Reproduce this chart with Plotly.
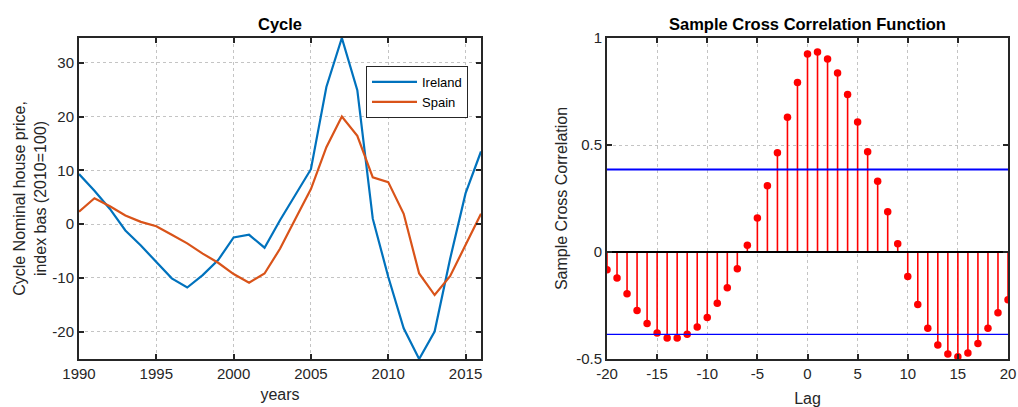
import plotly.graph_objects as go

# Cyclical component of nominal house prices (index, 2010=100)
years = list(range(1990, 2017))
ireland = [9.3, 6.2, 2.8, -1.2, -4.0, -7.0, -10.1, -11.8, -9.5, -6.7,
           -2.5, -2.0, -4.4, 0.7, 5.5, 10.2, 25.5, 34.6, 24.9, 1.0,
           -9.8, -19.4, -25.1, -20.0, -6.5, 5.7, 13.5]
spain = [2.3, 4.8, 3.3, 1.6, 0.4, -0.4, -2.0, -3.6, -5.5, -7.2,
         -9.3, -10.9, -9.2, -4.6, 1.0, 6.5, 14.3, 20.0, 16.4, 8.7,
         7.8, 1.9, -9.2, -13.2, -9.7, -4.0, 1.9]
year_ticks = [1990, 1995, 2000, 2005, 2010, 2015]
cycle_ticks = [-20, -10, 0, 10, 20, 30]

# Sample cross correlation by lag
lags = list(range(-20, 21))
xcf = [-0.083, -0.122, -0.195, -0.273, -0.334, -0.378, -0.402, -0.402, -0.384, -0.350,
       -0.306, -0.239, -0.167, -0.078, 0.031, 0.159, 0.309, 0.464, 0.630, 0.792,
       0.925, 0.934, 0.902, 0.836, 0.736, 0.608, 0.469, 0.331, 0.188, 0.038,
       -0.114, -0.245, -0.356, -0.434, -0.477, -0.489, -0.472, -0.428, -0.356, -0.284,
       -0.223]
bound = 0.385
lag_ticks = [-20, -15, -10, -5, 0, 5, 10, 15, 20]
corr_ticks = [-0.5, 0, 0.5, 1]

FONT = "Liberation Sans, Arial, Helvetica, sans-serif"
TXT = "#262626"
IRL_C = "#0072BD"
ESP_C = "#D95319"


def label(v):
    # plain hyphen-minus for negative tick labels
    return f"{v:g}"


fig = go.Figure()

fig.add_trace(go.Scatter(x=years, y=ireland, mode="lines", name="Ireland",
                         line=dict(color=IRL_C, width=2.2), xaxis="x", yaxis="y"))
fig.add_trace(go.Scatter(x=years, y=spain, mode="lines", name="Spain",
                         line=dict(color=ESP_C, width=2.2), xaxis="x", yaxis="y"))

# stems: vertical segments from zero to each value
sx, sy = [], []
for l, v in zip(lags, xcf):
    sx += [l, l, None]
    sy += [0, v, None]
fig.add_trace(go.Scatter(x=sx, y=sy, mode="lines", line=dict(color="red", width=1.6),
                         showlegend=False, xaxis="x2", yaxis="y2", hoverinfo="skip"))
fig.add_trace(go.Scatter(x=lags, y=xcf, mode="markers",
                         marker=dict(color="red", size=7.5, line=dict(width=0)),
                         showlegend=False, xaxis="x2", yaxis="y2"))
# baseline and confidence bounds
fig.add_trace(go.Scatter(x=[lags[0], lags[-1]], y=[0, 0], mode="lines",
                         line=dict(color="black", width=2), showlegend=False,
                         xaxis="x2", yaxis="y2", hoverinfo="skip"))
fig.add_trace(go.Scatter(x=[lags[0], lags[-1]], y=[bound, bound], mode="lines",
                         line=dict(color="blue", width=2), showlegend=False,
                         xaxis="x2", yaxis="y2", hoverinfo="skip"))
fig.add_trace(go.Scatter(x=[lags[0], lags[-1]], y=[-bound, -bound], mode="lines",
                         line=dict(color="blue", width=1.2), showlegend=False,
                         xaxis="x2", yaxis="y2", hoverinfo="skip"))

W, H = 1018, 407
ytop = 1 - 38 / H
ybot = 1 - 359 / H

axis_common = dict(
    showline=True, linewidth=2, linecolor=TXT, mirror="ticks",
    ticks="inside", ticklen=5, tickwidth=1.5, tickcolor=TXT,
    showgrid=True, gridcolor="#c4c4c4", griddash="dot", gridwidth=1,
    zeroline=False, automargin=False,
    tickfont=dict(family=FONT, size=15, color=TXT),
)
title_font = dict(family=FONT, size=16, color=TXT)
head_font = dict(family=FONT, size=16.5, color="black")

fig.update_layout(
    width=W, height=H,
    margin=dict(l=0, r=0, t=0, b=0),
    paper_bgcolor="white", plot_bgcolor="white",
    font=dict(family=FONT, color=TXT),
    xaxis=dict(domain=[79 / W, 481 / W], range=[1990, 2016],
               tickvals=year_ticks, ticktext=[label(v) for v in year_ticks],
               anchor="y", title=dict(text="years", font=title_font, standoff=8),
               **axis_common),
    yaxis=dict(domain=[ybot, ytop], range=[min(ireland), max(ireland)],
               tickvals=cycle_ticks, ticktext=[label(v) for v in cycle_ticks],
               anchor="x",
               title=dict(text="Cycle Nominal house price,<br>index bas (2010=100)",
                          font=title_font, standoff=2),
               **axis_common),
    xaxis2=dict(domain=[607 / W, 1008 / W], range=[-20, 20],
                tickvals=lag_ticks, ticktext=[label(v) for v in lag_ticks],
                anchor="y2", title=dict(text="Lag", font=title_font, standoff=13),
                **axis_common),
    yaxis2=dict(domain=[ybot, ytop], range=[-0.5, 1],
                tickvals=corr_ticks, ticktext=[label(v) for v in corr_ticks],
                anchor="x2",
                title=dict(text="Sample Cross Correlation", font=title_font, standoff=5),
                **axis_common),
    legend=dict(x=468 / W, y=1 - 66 / H, xanchor="right", yanchor="top",
                bgcolor="white", bordercolor=TXT, borderwidth=1,
                font=dict(family=FONT, size=13, color="black"),
                tracegroupgap=0, itemwidth=45),
    annotations=[
        dict(text="<b>Cycle</b>", x=(79 + 481) / 2 / W, y=1 - 24 / H,
             xref="paper", yref="paper", xanchor="center", yanchor="middle",
             showarrow=False, font=head_font),
        dict(text="<b>Sample Cross Correlation Function</b>", x=(607 + 1008) / 2 / W,
             y=1 - 24 / H, xref="paper", yref="paper", xanchor="center",
             yanchor="middle", showarrow=False, font=head_font),
    ],
    showlegend=True,
)

fig.write_html("out.html")
